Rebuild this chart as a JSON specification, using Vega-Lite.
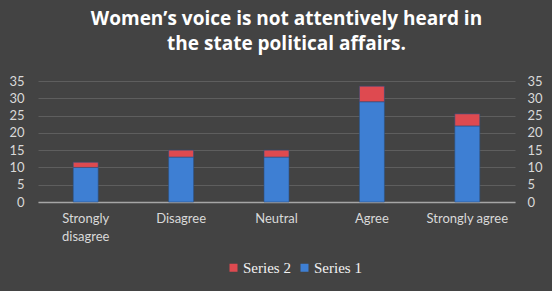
{
  "$schema": "https://vega.github.io/schema/vega-lite/v6.json",
  "width": 477,
  "height": 121,
  "autosize": {"type": "none"},
  "padding": {"left": 38, "top": 81, "right": 37, "bottom": 89},
  "background": "#434343",
  "title": {
    "text": ["Women’s voice is not attentively heard in", "the state political affairs."],
    "font": "Open Sans",
    "fontSize": 19,
    "fontWeight": "bold",
    "color": "#ffffff",
    "lineHeight": 25,
    "anchor": "middle",
    "dx": 10,
    "offset": 21
  },
  "data": {
    "values": [
      {"category": "Strongly disagree", "series": "Series 1", "value": 10},
      {"category": "Strongly disagree", "series": "Series 2", "value": 1.5},
      {"category": "Disagree", "series": "Series 1", "value": 13},
      {"category": "Disagree", "series": "Series 2", "value": 2},
      {"category": "Neutral", "series": "Series 1", "value": 13},
      {"category": "Neutral", "series": "Series 2", "value": 2},
      {"category": "Agree", "series": "Series 1", "value": 29},
      {"category": "Agree", "series": "Series 2", "value": 4.5},
      {"category": "Strongly agree", "series": "Series 1", "value": 22},
      {"category": "Strongly agree", "series": "Series 2", "value": 3.5}
    ]
  },
  "encoding": {
    "x": {
      "field": "category",
      "type": "nominal",
      "sort": null,
      "title": null,
      "axis": {
        "labelAngle": 0,
        "labelFont": "Lato",
        "labelFontSize": 13,
        "labelColor": "#d9d9d9",
        "labelPadding": 10,
        "labelLineHeight": 18,
        "labelExpr": "datum.label == 'Strongly disagree' ? ['Strongly', 'disagree'] : datum.label",
        "ticks": false,
        "domainColor": "#a6a6a6",
        "domainWidth": 1.5,
        "grid": false
      }
    }
  },
  "layer": [
    {
      "mark": {"type": "bar", "size": 25, "stroke": "#2b4f80", "strokeWidth": 0.6},
      "encoding": {
        "y": {
          "field": "value",
          "type": "quantitative",
          "stack": "zero",
          "scale": {"domain": [0, 35]},
          "title": null,
          "axis": {
            "orient": "left",
            "values": [0, 5, 10, 15, 20, 25, 30, 35],
            "labelFont": "Lato",
            "labelFontSize": 13,
            "labelColor": "#d9d9d9",
            "labelPadding": 14,
            "ticks": false,
            "domain": false,
            "gridColor": "#5e5e5e",
            "gridWidth": 1
          }
        },
        "color": {
          "field": "series",
          "type": "nominal",
          "scale": {"domain": ["Series 2", "Series 1"], "range": ["#de4a50", "#3e7fd3"]},
          "legend": {
            "title": null,
            "orient": "none",
            "direction": "horizontal",
            "legendX": 188,
            "legendY": 179,
            "symbolType": "square",
            "symbolSize": 64,
            "symbolStrokeWidth": 0,
            "labelFont": "Liberation Serif",
            "labelFontSize": 15,
            "labelColor": "#f2f2f2",
            "labelOffset": 2,
            "columnPadding": 6
          }
        },
        "order": {"field": "series", "sort": "ascending"}
      }
    },
    {
      "mark": {"type": "bar", "size": 25, "opacity": 0},
      "encoding": {
        "y": {
          "field": "value",
          "type": "quantitative",
          "stack": "zero",
          "scale": {"domain": [0, 35]},
          "title": null,
          "axis": {
            "orient": "right",
            "values": [0, 5, 10, 15, 20, 25, 30, 35],
            "labelFont": "Lato",
            "labelFontSize": 13,
            "labelColor": "#d9d9d9",
            "labelPadding": 12,
            "ticks": false,
            "domain": false,
            "grid": false
          }
        },
        "detail": {"field": "series"},
        "order": {"field": "series", "sort": "ascending"}
      }
    }
  ],
  "resolve": {"axis": {"y": "independent"}},
  "config": {"view": {"stroke": null}}
}
